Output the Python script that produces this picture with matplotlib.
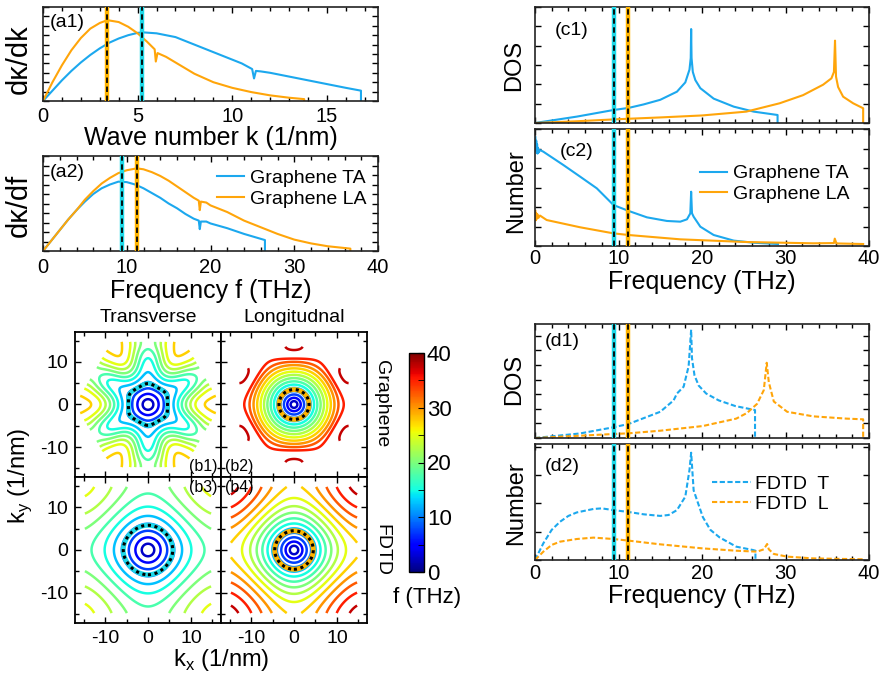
import numpy as np
import matplotlib
matplotlib.use('Agg')
import matplotlib.pyplot as plt
from matplotlib.ticker import MultipleLocator, NullFormatter
from matplotlib.cm import ScalarMappable
from matplotlib.colors import Normalize

plt.rcParams['font.family'] = ['Liberation Sans', 'DejaVu Sans']
plt.rcParams['axes.unicode_minus'] = False
plt.rcParams['mathtext.fontset'] = 'custom'
plt.rcParams['mathtext.rm'] = 'Liberation Sans'

BLUE = '#1CA8EE'
ORANGE = '#FFA50A'
CYAN = '#1ED8E8'
ORANGE_V = '#FFB400'

## ---------------- data ----------------
# marked frequencies / wave numbers (TA, LA)
MARK_K = [5.25, 3.37]
MARK_F = [9.47, 11.19]

# (a1) dkappa/dk vs k, normalised to axis height
A1_TA_K = [0, 0.5, 1, 1.5, 2, 2.5, 3, 3.5, 4, 4.5, 5, 5.3, 6, 7, 8, 9, 10, 10.5, 11.05, 11.15,
           11.25, 11.5, 12, 13, 14, 15, 16, 16.8, 16.8]
A1_TA_V = [0, 0.11, 0.22, 0.32, 0.41, 0.49, 0.56, 0.62, 0.665, 0.70, 0.725, 0.73, 0.72, 0.68, 0.60,
           0.52, 0.44, 0.40, 0.34, 0.24, 0.32, 0.315, 0.30, 0.26, 0.22, 0.18, 0.14, 0.11, 0]
A1_LA_K = [0, 0.5, 1, 1.5, 2, 2.5, 3, 3.4, 4, 4.5, 5, 5.5, 5.9, 5.96, 6.05, 6.5, 7, 7.5, 8, 9, 10,
           11, 12, 13, 13.8, 13.8]
A1_LA_V = [0, 0.2, 0.38, 0.54, 0.67, 0.77, 0.83, 0.86, 0.84, 0.79, 0.72, 0.63, 0.55, 0.42, 0.51,
           0.47, 0.41, 0.35, 0.29, 0.2, 0.14, 0.095, 0.06, 0.035, 0.02, 0]

# (a2) dkappa/df vs f
A2_TA_F = [0, 1, 2, 3, 4, 5, 6, 7, 8, 9, 10, 11, 12, 13, 14, 15, 16, 17, 18, 18.6, 18.72, 18.85,
           19.5, 20, 22, 24, 26.5, 26.5]
A2_TA_V = [0, 0.11, 0.22, 0.33, 0.43, 0.52, 0.6, 0.66, 0.70, 0.73, 0.725, 0.70, 0.66, 0.61, 0.56,
           0.5, 0.45, 0.39, 0.34, 0.32, 0.23, 0.31, 0.31, 0.29, 0.24, 0.18, 0.115, 0]
A2_LA_F = [0, 1, 2, 3, 4, 5, 6, 7, 8, 9, 10, 11.2, 12, 13, 14, 15, 16, 17, 18, 18.6, 18.72, 18.85,
           19.5, 20, 22, 24, 26, 28, 30, 32, 34, 36.7, 36.7]
A2_LA_V = [0, 0.11, 0.22, 0.33, 0.43, 0.54, 0.63, 0.71, 0.77, 0.82, 0.85, 0.87, 0.86, 0.83, 0.79,
           0.74, 0.68, 0.62, 0.56, 0.53, 0.43, 0.52, 0.51, 0.48, 0.41, 0.32, 0.25, 0.18, 0.12,
           0.08, 0.05, 0.025, 0]

# (c1) DOS graphene
C1_TA_F = [0, 5, 9.4, 11.2, 13, 15, 17, 18, 18.5, 18.65, 18.7, 18.75, 18.9, 19.2, 19.8, 21.4,
           23.8, 26.2, 29.05, 29.05]
C1_TA_V = [0, 0.055, 0.112, 0.13, 0.16, 0.2, 0.27, 0.35, 0.46, 0.56, 0.81, 0.56, 0.44, 0.37,
           0.30, 0.21, 0.141, 0.098, 0.069, 0]
C1_LA_F = [0, 5, 10, 15, 20, 25.3, 29.3, 32.1, 34.5, 35.5, 35.8, 35.93, 36.05, 36.3, 36.9, 38.1,
           39.3, 39.3]
C1_LA_V = [0, 0.015, 0.033, 0.048, 0.065, 0.098, 0.17, 0.24, 0.33, 0.385, 0.44, 0.71, 0.40, 0.31,
           0.227, 0.17, 0.127, 0]

# (c2) number graphene
C2_TA_F = [0.05, 0.1, 0.15, 0.2, 0.25, 0.3, 0.35, 0.45, 0.6, 1.0, 3.4, 5.4, 7.4, 9.4, 11.2, 13.4,
           15.8, 17.4, 18.2, 18.6, 18.7, 18.8, 19.0, 19.8, 21.4, 23.8, 26.2, 29.1]
C2_TA_V = [0.93, 0.82, 0.90, 0.80, 0.87, 0.79, 0.84, 0.80, 0.82, 0.806, 0.692, 0.593, 0.493, 0.35,
           0.30, 0.245, 0.214, 0.208, 0.228, 0.279, 0.464, 0.28, 0.25, 0.165, 0.094, 0.046,
           0.028, 0.017]
C2_LA_F = [0.05, 0.1, 0.15, 0.2, 0.3, 0.4, 0.6, 1.4, 5.4, 9.4, 11.2, 17.4, 25.3, 33.3, 35.8, 35.9,
           36.1, 39.3]
C2_LA_V = [0.30, 0.22, 0.28, 0.23, 0.27, 0.24, 0.26, 0.222, 0.16, 0.108, 0.094, 0.057, 0.034,
           0.023, 0.025, 0.063, 0.022, 0.017]

# (d1) DOS FDTD
D1_T_F = [0, 5.4, 9.4, 11.2, 15, 16.6, 17, 17.8, 18.4, 18.7, 18.8, 19.1, 19.6, 20.5, 22, 24, 26.35,
          26.35]
D1_T_V = [0, 0.04, 0.094, 0.123, 0.23, 0.33, 0.39, 0.45, 0.63, 0.95, 0.70, 0.55, 0.46, 0.39, 0.33,
          0.28, 0.245, 0]
D1_L_F = [0, 9.4, 11.2, 15, 20.1, 24.1, 25.4, 26.6, 27.4, 27.75, 28.0, 28.6, 30.2, 33.3, 37.3,
          39.3, 39.3]
D1_L_V = [0, 0.035, 0.041, 0.064, 0.105, 0.17, 0.22, 0.30, 0.42, 0.66, 0.49, 0.32, 0.23, 0.19,
          0.17, 0.164, 0]

# (d2) number FDTD
D2_T_F = [0, 1, 2, 3, 4, 5, 7, 8, 9.4, 11.2, 13, 15, 16, 17, 18, 18.5, 18.7, 19.0, 20.1, 21, 22.1,
          24.1, 26.1, 26.4, 26.4]
D2_T_V = [0, 0.144, 0.26, 0.33, 0.38, 0.41, 0.44, 0.445, 0.43, 0.414, 0.394, 0.38, 0.388, 0.43,
          0.546, 0.776, 0.925, 0.60, 0.37, 0.26, 0.195, 0.115, 0.086, 0.08, 0]
D2_L_F = [0, 1, 2, 3, 5, 7, 9.4, 11.2, 15, 20.1, 24.1, 26.6, 27.4, 27.8, 28.0, 28.6, 30.2, 33.3,
          39.3]
D2_L_V = [0, 0.072, 0.13, 0.158, 0.181, 0.193, 0.181, 0.167, 0.135, 0.10, 0.08, 0.072, 0.092,
          0.138, 0.092, 0.052, 0.029, 0.014, 0.006]

# (b) iso-frequency maps: dispersion knots along the zone-corner direction
ZONE_K = [17.0, 14.72]                 # corner distance of the zone (TA, LA), 1/nm
TA_STAR = 0.2                          # six-fold warping of the TA contours
TA_KNOT_K = [0, 4.7, 9.88, 14.0, 17.0]
TA_KNOT_F = [0, 9.47, 18.7, 25.0, 29.0]
LA_KNOT_K = [0, 3.5, 11.04, 14.72]
LA_KNOT_F = [0, 11.19, 35.9, 39.3]
FDTD_FMAX = [26.4, 39.3]               # T, L maximum frequency
FDTD_EDGE = 17.0
FDTD_SHOWN = 14.72                     # |kx|, |ky| range that carries contours
LEVELS = np.arange(2.5, 40, 2.5)

## ---------------- layout helpers ----------------
W, H = 884, 679


def box(x0, y0, x1, y1):
    return [x0 / W, 1 - y1 / H, (x1 - x0) / W, (y1 - y0) / H]


def style(ax, xmaj, xmin, ystep, pad=3):
    ax.xaxis.set_major_locator(MultipleLocator(xmaj))
    ax.xaxis.set_minor_locator(MultipleLocator(xmin))
    ax.yaxis.set_major_locator(MultipleLocator(ystep))
    ax.yaxis.set_major_formatter(NullFormatter())
    ax.tick_params(which='both', direction='in', top=True, right=True, labelsize=14.5, pad=pad)
    ax.tick_params(which='major', length=4, width=1)
    ax.tick_params(which='minor', length=3, width=1)
    for s in ax.spines.values():
        s.set_linewidth(1.2)
        s.set_color('#222222')


def marker_lines(ax, xs):
    for x, c in zip(xs, [CYAN, ORANGE_V]):
        ax.axvline(x, color=c, lw=3.2, zorder=5)
        ax.axvline(x, color='k', lw=1.3, ls=(0, (3, 2)), zorder=6)


def ylab(ax, text, x, y, size=17):
    ax.set_ylabel(text, fontsize=size)
    ax.yaxis.set_label_coords(x, y)


def xlab(ax, text, y, size=18):
    ax.set_xlabel(text, fontsize=size)
    ax.xaxis.set_label_coords(0.5, y)


fig = plt.figure(figsize=(W / 100, H / 100), dpi=100)

# ---- (a1)
ax = fig.add_axes(box(43, 7, 378, 101))
ax.plot(A1_TA_K, A1_TA_V, color=BLUE, lw=1.5)
ax.plot(A1_LA_K, A1_LA_V, color=ORANGE, lw=1.5)
marker_lines(ax, MARK_K)
ax.set_xlim(0, 17.7)
ax.set_ylim(0, 1)
style(ax, 5, 1, 0.1, pad=4)
ylab(ax, 'dκ/dk', -0.03, 0.44, 21)
xlab(ax, 'Wave number k (1/nm)', -0.265)
ax.text(0.02, 0.93, '(a1)', transform=ax.transAxes, fontsize=14, va='top')

# ---- (a2)
ax = fig.add_axes(box(43, 156, 378, 251))
ax.plot(A2_TA_F, A2_TA_V, color=BLUE, lw=1.5, label='Graphene TA')
ax.plot(A2_LA_F, A2_LA_V, color=ORANGE, lw=1.5, label='Graphene LA')
marker_lines(ax, MARK_F)
ax.set_xlim(0, 40)
ax.set_ylim(0, 1)
style(ax, 10, 2, 0.1, pad=5)
ylab(ax, 'dκ/df', -0.03, 0.48, 21)
xlab(ax, 'Frequency f (THz)', -0.29)
ax.text(0.02, 0.92, '(a2)', transform=ax.transAxes, fontsize=14, va='top')
ax.legend(loc='upper right', bbox_to_anchor=(1.0, 0.98), frameon=False, fontsize=14,
          handlelength=1.4, handletextpad=0.3, labelspacing=0.15, borderaxespad=0.2)

# ---- (c1)
ax = fig.add_axes(box(535, 7, 869, 123))
ax.plot(C1_TA_F, C1_TA_V, color=BLUE, lw=1.5)
ax.plot(C1_LA_F, C1_LA_V, color=ORANGE, lw=1.5)
marker_lines(ax, MARK_F)
ax.set_xlim(0, 40)
ax.set_ylim(0, 1)
style(ax, 10, 2, 1 / 6)
ax.xaxis.set_major_formatter(NullFormatter())
ylab(ax, 'DOS', -0.03, 0.5)
ax.text(0.06, 0.87, '(c1)', transform=ax.transAxes, fontsize=14, va='top')

# ---- (c2)
ax = fig.add_axes(box(535, 129, 869, 246))
ax.plot(C2_TA_F, C2_TA_V, color=BLUE, lw=1.5, label='Graphene TA')
ax.plot(C2_LA_F, C2_LA_V, color=ORANGE, lw=1.5, label='Graphene LA')
marker_lines(ax, MARK_F)
ax.set_xlim(0, 40)
ax.set_ylim(0, 1)
style(ax, 10, 2, 1 / 6, pad=2)
ylab(ax, 'Number', -0.025, 0.47)
xlab(ax, 'Frequency (THz)', -0.205)
ax.text(0.075, 0.88, '(c2)', transform=ax.transAxes, fontsize=14, va='top')
ax.legend(loc='upper right', bbox_to_anchor=(0.965, 0.76), frameon=False, fontsize=14,
          handlelength=1.4, handletextpad=0.3, labelspacing=0.15, borderaxespad=0)

# ---- (d1)
ax = fig.add_axes(box(535, 324, 869, 438))
ax.plot(D1_T_F, D1_T_V, color=BLUE, lw=1.5, ls=(0, (2.5, 1.2)))
ax.plot(D1_L_F, D1_L_V, color=ORANGE, lw=1.5, ls=(0, (2.5, 1.2)))
marker_lines(ax, MARK_F)
ax.set_xlim(0, 40)
ax.set_ylim(0, 1)
style(ax, 10, 2, 1 / 7.8)
ax.xaxis.set_major_formatter(NullFormatter())
ylab(ax, 'DOS', -0.03, 0.51)
ax.text(0.03, 0.92, '(d1)', transform=ax.transAxes, fontsize=14, va='top')

# ---- (d2)
ax = fig.add_axes(box(535, 444, 869, 560))
ax.plot(D2_T_F, D2_T_V, color=BLUE, lw=1.5, ls=(0, (2.5, 1.2)), label='FDTD  T')
ax.plot(D2_L_F, D2_L_V, color=ORANGE, lw=1.5, ls=(0, (2.5, 1.2)), label='FDTD  L')
marker_lines(ax, MARK_F)
ax.set_xlim(0, 40)
ax.set_ylim(0, 1)
style(ax, 10, 2, 1 / 4.1, pad=3)
ylab(ax, 'Number', -0.025, 0.49)
xlab(ax, 'Frequency (THz)', -0.205)
ax.text(0.03, 0.88, '(d2)', transform=ax.transAxes, fontsize=14, va='top')
ax.legend(loc='upper right', bbox_to_anchor=(0.905, 0.8), frameon=False, fontsize=14,
          handlelength=2.0, handletextpad=0.2, labelspacing=0.15, borderaxespad=0)

## ---------------- (b) iso-frequency contours ----------------
kgrid = np.linspace(-17, 17, 501)
KX, KY = np.meshgrid(kgrid, kgrid)
THETA = np.arctan2(KY, KX)


def hex_dist(k_corner, rot):
    # equivalent distance along Gamma-K for a honeycomb band, zone corner at k_corner
    a = 4 * np.pi / (3 * k_corner)
    s = np.zeros_like(KX)
    for ang in np.deg2rad(np.array([0, 120, 240]) + rot):
        s += np.cos(a * (KX * np.cos(ang) + KY * np.sin(ang)))
    u = 1 - np.sqrt(np.clip(3 + 2 * s, 0, None)) / 3
    d = 2 * np.arccos(np.clip(1 - 1.5 * u, -1, 1)) / a
    # keep only the first zone
    edge = k_corner * np.sqrt(3) / 2
    out = np.zeros_like(KX, dtype=bool)
    for ang in np.deg2rad(np.array([30, 90, 150]) + rot):
        out |= np.abs(KX * np.cos(ang) + KY * np.sin(ang)) > edge
    return d, out


d_ta, out_ta = hex_dist(ZONE_K[0], 0)
warp = 4 * np.sin(np.pi * d_ta / ZONE_K[0]) ** 2 * (d_ta / ZONE_K[0]) ** 2
d_ta = d_ta * (1 + TA_STAR * warp * np.cos(6 * THETA))
F_TA = np.ma.masked_where(out_ta, np.interp(d_ta, TA_KNOT_K, TA_KNOT_F))
d_la, out_la = hex_dist(ZONE_K[1], 30)
F_LA = np.ma.masked_where(out_la, np.interp(d_la, LA_KNOT_K, LA_KNOT_F))

a_fd = np.pi / FDTD_EDGE
v_fd = (np.sin(KX * a_fd / 2) ** 2 + np.sin(KY * a_fd / 2) ** 2) / 2
out_fd = (np.abs(KX) > FDTD_SHOWN) | (np.abs(KY) > FDTD_SHOWN)
F_T = np.ma.masked_where(out_fd, FDTD_FMAX[0] * np.sqrt(v_fd))
F_L = np.ma.masked_where(out_fd, FDTD_FMAX[1] * np.sqrt(v_fd))

panels = [
    (box(75, 332, 221, 477), F_TA, MARK_F[0], CYAN, '(b1)', (0.975, 0.02, 'right', 'bottom')),
    (box(221, 332, 367, 477), F_LA, MARK_F[1], ORANGE_V, '(b2)', (0.03, 0.02, 'left', 'bottom')),
    (box(75, 477, 221, 623), F_T, MARK_F[0], CYAN, '(b3)', (0.975, 0.98, 'right', 'top')),
    (box(221, 477, 367, 623), F_L, MARK_F[1], ORANGE_V, '(b4)', (0.03, 0.98, 'left', 'top')),
]
for i, (pos, F, fmark, cmark, lab, (tx, ty, ha, va)) in enumerate(panels):
    ax = fig.add_axes(pos)
    ax.contour(KX, KY, F, levels=LEVELS, cmap='jet', vmin=0, vmax=40, linewidths=1.8)
    ax.contour(KX, KY, F, levels=[fmark], colors=[cmark], linewidths=3.5)
    ax.contour(KX, KY, F, levels=[fmark], colors='k', linewidths=2.2, linestyles=[(0, (1, 1.2))])
    ax.set_xlim(-17, 17)
    ax.set_ylim(-17, 17)
    ax.xaxis.set_major_locator(MultipleLocator(10))
    ax.xaxis.set_minor_locator(MultipleLocator(5))
    ax.yaxis.set_major_locator(MultipleLocator(10))
    ax.yaxis.set_minor_locator(MultipleLocator(5))
    ax.tick_params(which='both', direction='in', top=True, right=True, labelsize=14, pad=5,
                   width=1)
    ax.tick_params(which='major', length=4)
    ax.tick_params(which='minor', length=3)
    if i % 2 == 1:
        ax.yaxis.set_major_formatter(NullFormatter())
    if i < 2:
        ax.xaxis.set_major_formatter(NullFormatter())
    for s in ax.spines.values():
        s.set_linewidth(1.3)
    ax.text(tx, ty, lab, transform=ax.transAxes, fontsize=11.5, ha=ha, va=va)

fig.text(148 / W, 1 - 318 / H, 'Transverse', ha='center', va='center', fontsize=14)
fig.text(294 / W, 1 - 318 / H, 'Longitudnal', ha='center', va='center', fontsize=14)
fig.text(382 / W, 1 - 404 / H, 'Graphene', ha='center', va='center', fontsize=14, rotation=270)
fig.text(382 / W, 1 - 550 / H, 'FDTD', ha='center', va='center', fontsize=14, rotation=270)
fig.text(20 / W, 1 - 476 / H, r'k$_\mathregular{y}$ (1/nm)', ha='center', va='center',
         fontsize=17, rotation=90)
fig.text(221 / W, 1 - 660 / H, r'k$_\mathregular{x}$ (1/nm)', ha='center', va='center',
         fontsize=17)

cax = fig.add_axes(box(409, 353, 424, 572))
cb = fig.colorbar(ScalarMappable(Normalize(0, 40), 'jet'), cax=cax, ticks=[0, 10, 20, 30, 40])
cb.ax.yaxis.set_minor_locator(MultipleLocator(5))
cb.ax.tick_params(which='both', direction='in', labelsize=16, pad=2, length=4)
cb.outline.set_linewidth(1.0)
fig.text(427 / W, 1 - 597 / H, 'f (THz)', ha='center', va='center', fontsize=16)

fig.savefig('out.png', dpi=100)
